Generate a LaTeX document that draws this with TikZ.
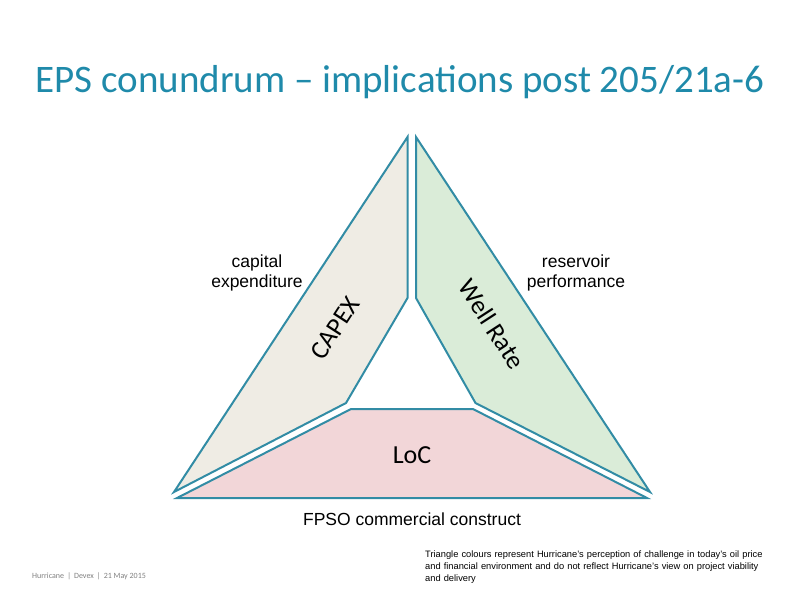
\documentclass[tikz,border=0pt]{standalone}
\usepackage{fontspec}
\setmainfont{Liberation Sans}
\newfontfamily\carl{Carlito}
\definecolor{tit}{RGB}{31,138,170}
\definecolor{edge}{RGB}{50,140,165}
\definecolor{capf}{RGB}{239,236,228}
\definecolor{wellf}{RGB}{218,236,216}
\definecolor{locf}{RGB}{242,214,216}
\begin{document}
\begin{tikzpicture}[x=1pt,y=-1pt,
  piece/.style={draw=edge,line width=2pt,line join=miter},
  lab/.style={font=\fontsize{17.5}{20}\selectfont,align=center,inner sep=0}]
\useasboundingbox (0,0) rectangle (800,600);
\node[font=\carl\fontsize{39}{44}\selectfont,text=tit,inner sep=0] (title) at (400,82) {EPS conundrum – implications post 205/21a-6};
\draw[piece,fill=capf] (407.5,137) -- (407.5,298) -- (346,403) -- (174,492) -- cycle;
\draw[piece,fill=wellf] (416,137) -- (416,298) -- (475.5,403) -- (650,492) -- cycle;
\draw[piece,fill=locf] (177,498) -- (647,498) -- (473,409) -- (351,409) -- cycle;
\node[font=\carl\fontsize{26}{30}\selectfont,rotate=57,inner sep=0] (capex) at (335,328) {CAPEX};
\node[font=\carl\fontsize{26}{30}\selectfont,rotate=-57,inner sep=0] (well) at (492,324) {Well Rate};
\node[font=\carl\fontsize{26}{30}\selectfont,inner sep=0] (loc) at (412,455) {LoC};
\node[lab] (capt) at (257,273) {capital\\expenditure};
\node[lab] (res) at (576,273) {reservoir\\performance};
\node[lab] (fpso) at (412,519) {FPSO commercial construct};
\node[font=\carl\fontsize{8}{10}\selectfont,text=gray,anchor=west,inner sep=0] (foot) at (32,576) {Hurricane \,|\, Devex \,|\, 21 May 2015};
\node[font=\fontsize{9.3}{12}\selectfont,align=left,anchor=north west,inner sep=0,text width=400] (note) at (425,551) {Triangle colours represent Hurricane's perception of challenge in today's oil price\\and financial environment and do not reflect Hurricane's view on project viability\\and delivery};
\end{tikzpicture}
\end{document}
